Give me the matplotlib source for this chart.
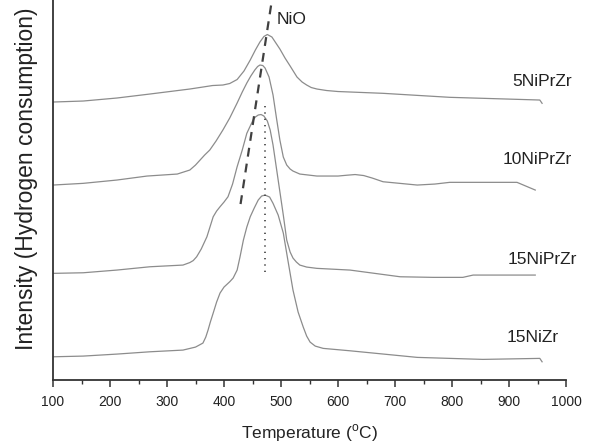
import matplotlib
matplotlib.use("Agg")
import matplotlib.pyplot as plt
from matplotlib.ticker import MultipleLocator

plt.rcParams['font.family'] = ['Liberation Sans', 'DejaVu Sans']
plt.rcParams['mathtext.fontset'] = 'custom'
plt.rcParams['mathtext.rm'] = 'Liberation Sans'

# ---- data (temperature in °C, intensity in a.u., offset already included) ----
t_5 = [100, 153, 212, 270, 340, 363, 380, 398, 410, 423, 435, 446, 455, 463, 470, 476, 484,
       491, 498, 507, 516, 528, 537, 545, 553, 563, 580, 600, 679, 796, 954, 958]
i_5 = [278, 279, 282, 286, 291, 293, 294.5, 295, 296.5, 300.5, 309, 320, 330, 338, 343.5, 345.5, 343,
       337, 331, 322, 314, 303, 298, 295, 292.5, 291, 289.5, 288.5, 286.7, 282.7, 280, 276.7]

t_10 = [100, 153, 212, 265, 318, 340, 350, 358, 366, 375, 386, 398, 410, 423, 432, 440, 447, 454, 459,
        463, 468, 472, 479, 486, 492, 498, 504, 510, 516, 521, 533, 563, 600, 615, 630, 645, 660, 679,
        739, 770, 796, 914, 946]
i_10 = [195, 196.7, 200, 204, 206, 210, 215, 220, 225, 230, 239, 250, 262, 277, 288, 297, 304, 310, 313.5,
        315, 314.5, 312, 303, 285, 262, 240, 223, 215, 211, 209, 206, 204, 204, 204.8, 205.5, 204.5, 202, 198.3,
        195, 196, 197.7, 197.7, 190]

t_15p = [100, 153, 212, 270, 328, 340, 346, 352, 360, 370, 381, 387, 393, 400, 407, 415, 423, 432, 440,
         446, 451, 455, 460, 465, 470, 476, 481, 486, 495, 504, 510, 516, 521, 527, 533, 545, 563, 621,
         709, 767, 819, 837, 946]
i_15p = [106.7, 107.3, 110, 113.3, 115, 117.5, 119.5, 123.3, 131, 143.3, 163.3, 169, 173.3, 178, 183.3, 196, 213.3, 230, 246.7,
         254, 260, 263, 265, 265.5, 264, 259, 250, 235, 200, 165, 140, 128, 122, 118, 115, 113, 111.7, 110,
         103.3, 102.7, 102.7, 105, 105]

t_15z = [100, 153, 212, 270, 328, 350, 363, 368, 372, 376, 381, 387, 393, 400, 410, 416, 423, 428, 434,
         440, 446, 453, 460, 466, 472, 480, 486, 495, 504, 512, 521, 530, 539, 545, 551, 560, 574, 621,
         739, 854, 954, 958]
i_15z = [23.3, 24, 26, 28.3, 30, 33, 37, 43, 50, 58, 67, 78, 87, 93, 98.3, 102, 110, 123, 140,
         153, 163.3, 172, 180, 184, 185, 183, 176.7, 165, 147, 120, 90, 68, 53, 44, 38, 34, 31.7, 29.3,
         22.7, 20.7, 21.7, 18.3]

series_names = ['5NiPrZr', '10NiPrZr', '15NiPrZr', '15NiZr']
label_t = [905, 889, 898, 896]
label_i = [299, 221, 121, 43]

nio_dash_t = [429, 484]
nio_dash_i = [176, 380]
dot_t = [472, 472]
dot_i = [108, 275]

fig = plt.figure(figsize=(5.89, 4.43), dpi=100)
ax = fig.add_axes([0.09, 0.142, 0.871, 0.858])

curve_color = '#8c8c8c'
for t, i in [(t_5, i_5), (t_10, i_10), (t_15p, i_15p), (t_15z, i_15z)]:
    ax.plot(t, i, color=curve_color, lw=0.9, solid_joinstyle='round')

ax.plot(nio_dash_t, nio_dash_i, color='#404040', lw=1.6, dashes=(4, 3.2))
ax.plot(dot_t, dot_i, color='#404040', lw=1.2, linestyle=(0, (0.8, 3.0)))

for name, tx, iy in zip(series_names, label_t, label_i):
    ax.text(tx, iy, name, fontsize=12.5, ha='left', va='center', color='#222222', clip_on=False)
ax.text(493, 361, 'NiO', fontsize=12.5, ha='left', va='center', color='#222222')

ax.set_xlim(100, 1000)
ax.set_ylim(0, 380)
ax.spines['top'].set_visible(False)
ax.spines['right'].set_visible(False)
for s in ('left', 'bottom'):
    ax.spines[s].set_linewidth(1.3)
    ax.spines[s].set_color('#333333')
ax.set_yticks([])
ax.xaxis.set_major_locator(MultipleLocator(100))
ax.xaxis.set_minor_locator(MultipleLocator(50))
ax.tick_params(axis='x', which='major', length=5, width=1.1, labelsize=10, color='#333333', pad=6, labelcolor='#222222')
ax.tick_params(axis='x', which='minor', length=3, width=1.0, color='#333333')

ax.set_xlabel(r'Temperature ($^{\rm o}$C)', fontsize=12.5, labelpad=9, color='#222222')
ax.set_ylabel('Intensity (Hydrogen consumption)', fontsize=16.5, labelpad=10, color='#222222')
ax.yaxis.set_label_coords(-0.03, 0.53)

fig.savefig('out.png', dpi=100)
